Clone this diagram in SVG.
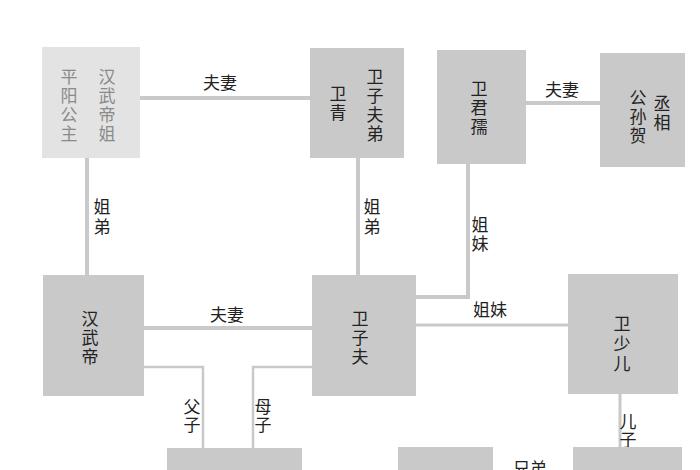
<svg xmlns="http://www.w3.org/2000/svg" width="700" height="470" viewBox="0 0 700 470">
<style>
.box{fill:#c9c9c9}
.lbox{fill:#e3e3e3}
.t{font-family:"Noto Sans CJK SC","Noto Sans CJK JP",sans-serif;font-size:17px;fill:#222;text-anchor:middle}
.v{writing-mode:vertical-rl;letter-spacing:2px}
.lt{fill:#8a8a8a}
.c{fill:none;stroke:#c9c9c9;stroke-width:4}
.c2{fill:none;stroke:#c9c9c9;stroke-width:2.5}
</style>
<rect width="700" height="470" fill="#fff"/>
<g id="connectors">
<line class="c" x1="140" y1="98" x2="310" y2="98"/>
<line class="c" x1="87" y1="158" x2="87" y2="275"/>
<line class="c" x1="358" y1="158" x2="358" y2="275"/>
<line class="c" x1="526" y1="103" x2="600" y2="103"/>
<polyline class="c" points="468,164 468,297 416,297"/>
<line class="c" x1="144" y1="328" x2="312" y2="328"/>
<line class="c" x1="416" y1="325" x2="568" y2="325" style="stroke-width:3"/>
<polyline class="c2" points="144,367 203,367 203,448"/>
<polyline class="c2" points="312,367 253,367 253,448"/>
<line class="c" x1="620" y1="394" x2="620" y2="447" style="stroke-width:3"/>
<text class="t" x="220" y="89">夫妻</text>
<text class="t" x="562" y="96">夫妻</text>
<text class="t" x="227" y="321">夫妻</text>
<text class="t" x="490" y="316">姐妹</text>
<text class="t" x="530" y="475">兄弟</text>
<text class="t v" x="102" y="218" style="letter-spacing:3px">姐弟</text>
<text class="t v" x="372" y="218" style="letter-spacing:3px">姐弟</text>
<text class="t v" x="480" y="235">姐妹</text>
<text class="t v" x="192" y="416" style="letter-spacing:1px">父子</text>
<text class="t v" x="263" y="416" style="letter-spacing:1px">母子</text>
<text class="t v" x="628" y="431" style="letter-spacing:1px">儿子</text>
</g>
<g id="pingyang">
<rect class="lbox" x="42" y="47" width="98" height="111"/>
<text class="t v lt" x="69" y="106">平阳公主</text>
<text class="t v lt" x="107" y="106">汉武帝姐</text>
</g>
<g id="weiqing">
<rect class="box" x="310" y="48" width="94" height="110"/>
<text class="t v" x="338" y="104">卫青</text>
<text class="t v" x="375" y="106">卫子夫弟</text>
</g>
<g id="weijunru">
<rect class="box" x="437" y="50" width="89" height="114"/>
<text class="t v" x="479" y="109">卫君孺</text>
</g>
<g id="gongsunhe">
<rect class="box" x="600" y="53" width="85" height="114"/>
<text class="t v" x="638" y="118">公孙贺</text>
<text class="t v" x="662" y="114">丞相</text>
</g>
<g id="hanwudi">
<rect class="box" x="43" y="275" width="101" height="121"/>
<text class="t v" x="90" y="339">汉武帝</text>
</g>
<g id="weizifu">
<rect class="box" x="312" y="275" width="104" height="121"/>
<text class="t v" x="360" y="339">卫子夫</text>
</g>
<g id="weishaoer">
<rect class="box" x="568" y="274" width="110" height="120"/>
<text class="t v" x="622" y="345" style="letter-spacing:3px">卫少儿</text>
</g>
<g id="bottom1"><rect class="box" x="167" y="448" width="135" height="30"/></g>
<g id="bottom2"><rect class="box" x="398" y="447" width="95" height="30"/></g>
<g id="bottom3"><rect class="box" x="573" y="447" width="109" height="30"/></g>
</svg>
